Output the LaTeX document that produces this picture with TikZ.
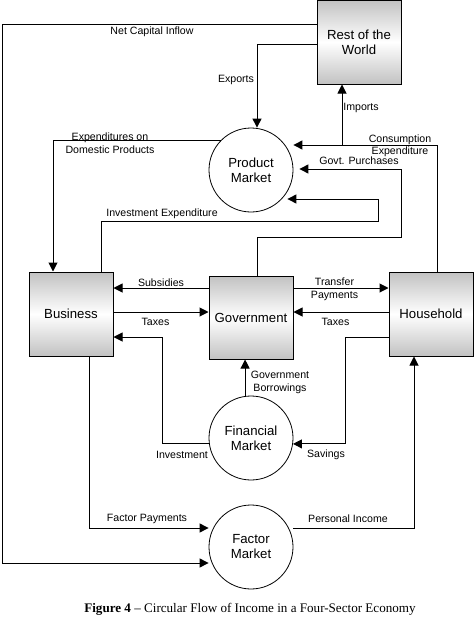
\documentclass[tikz,border=0pt]{standalone}
\usepackage{fontspec}
\setmainfont{Liberation Sans}
\newfontfamily\capfont{Liberation Serif}
\usetikzlibrary{arrows.meta,calc}
\begin{document}
\begin{tikzpicture}[x=1pt,y=-1pt,
  sector/.style={draw, line width=1pt, minimum width=84pt, minimum height=84pt, inner sep=0pt,
    top color=black!24, bottom color=black!24, middle color=white,
    font=\fontsize{13.2}{15}\selectfont, align=center},
  market/.style={circle, draw, line width=0.8pt, minimum size=84pt, inner sep=0pt,
    font=\fontsize{13.2}{15}\selectfont, align=center},
  flow/.style={line width=1pt, -{Triangle[length=9pt,width=9pt]}},
  lbl/.style={font=\fontsize{10.6}{12.5}\selectfont, inner sep=0pt, align=center}]
\useasboundingbox (0,0) rectangle (474,624);
\fill[white] (0,0) rectangle (474,624);

% sectors
\node[sector] (row) at (359,42) {Rest of the\\World};
\node[sector] (bus) at (71,314) {Business};
\node[sector, minimum height=83pt] (gov) at (251,317.5) {Government};
\node[sector] (hh) at (431,314) {Household};
% markets
\node[market] (pm) at (251,170) {Product\\Market};
\node[market] (fm) at (251,438) {Financial\\Market};
\node[market] (fam) at (251,547) {Factor\\Market};

% bend points
\coordinate (nw) at (2,24);
\coordinate (sw) at (2,563);
\coordinate (ex) at (257,44);
\coordinate (im) at (342,145);
\coordinate (ce) at (437,145);
\coordinate (gp1) at (257,237);
\coordinate (gp2) at (401,169);
\coordinate (ie1) at (101,221);
\coordinate (ie2) at (378,199);
\coordinate (ed) at (53,140);
\coordinate (r1) at (0,288);
\coordinate (r2) at (0,312);
\coordinate (iv) at (162,337);
\coordinate (sv) at (345,337);
\coordinate (fp) at (89,528);
\coordinate (pi) at (414,528);

% connectors
\draw[flow] (row.west |- nw) -- (nw) -- (sw) -- (sw -| fam.west);
\draw[flow] (row.west |- ex) -| (pm.north -| ex);
\draw[flow] (im) -- (im |- row.south);
\draw[flow] (hh.north -| ce) -- (ce) -- (ce -| pm.east);
\draw[flow] (gov.north -| gp1) -- (gp1) -| (gp2) -- ($(gp2 -| pm.east)+(6,0)$);
\draw[flow] (bus.north -| ie1) -- (ie1) -| (ie2) -- ($(ie2 -| pm.east)+(-6,0)$);
\draw[flow] (pm.135) -- (pm.135 -| ed) -- (bus.north -| ed);
\draw[flow] (gov.west |- r1) -- (bus.east |- r1);
\draw[flow] (bus.east |- r2) -- (gov.west |- r2);
\draw[flow] (gov.east |- r1) -- (hh.west |- r1);
\draw[flow] (hh.west |- r2) -- (gov.east |- r2);
\draw[flow] (fm.188) -- (fm.188 -| iv) -- (iv) -- (bus.east |- iv);
\draw[flow] (hh.west |- sv) -- (sv) -- (sv |- fm.-8) -- (fm.-8);
\draw[flow] (fm.98) -- (fm.98 |- gov.south);
\draw[flow] (bus.south -| fp) -- (fp) -- (fp -| fam.west);
\draw[flow] (fam.east |- pi) -- (pi) -- (pi |- hh.south);

% labels
\node[lbl] (lnci) at (152,32) {Net Capital Inflow};
\node[lbl] (lexp) at (236,80) {Exports};
\node[lbl] (limp) at (361,108) {Imports};
\node[lbl] (lce) at (400,146) {Consumption\\Expenditure};
\node[lbl] (ledp) at (110,143) {Expenditures on\\Domestic Products};
\node[lbl] (lgp) at (359,161) {Govt. Purchases};
\node[lbl] (lie) at (162,214) {Investment Expenditure};
\node[lbl] (lsub) at (161,283) {Subsidies};
\node[lbl] (ltx1) at (155.5,322) {Taxes};
\node[lbl] (ltp) at (334.5,289.5) {Transfer\\Payments};
\node[lbl] (ltx2) at (335.5,322) {Taxes};
\node[lbl] (lgb) at (280,382.5) {Government\\Borrowings};
\node[lbl] (linv) at (182,455) {Investment};
\node[lbl] (lsav) at (326,455) {Savings};
\node[lbl] (lfp) at (147,519) {Factor Payments};
\node[lbl] (lpi) at (348,519) {Personal Income};

% caption
\node[font=\capfont\fontsize{13.1}{15}\selectfont, inner sep=0pt] (cap) at (250,609)
  {\textbf{Figure 4} – Circular Flow of Income in a Four-Sector Economy};
\end{tikzpicture}
\end{document}
